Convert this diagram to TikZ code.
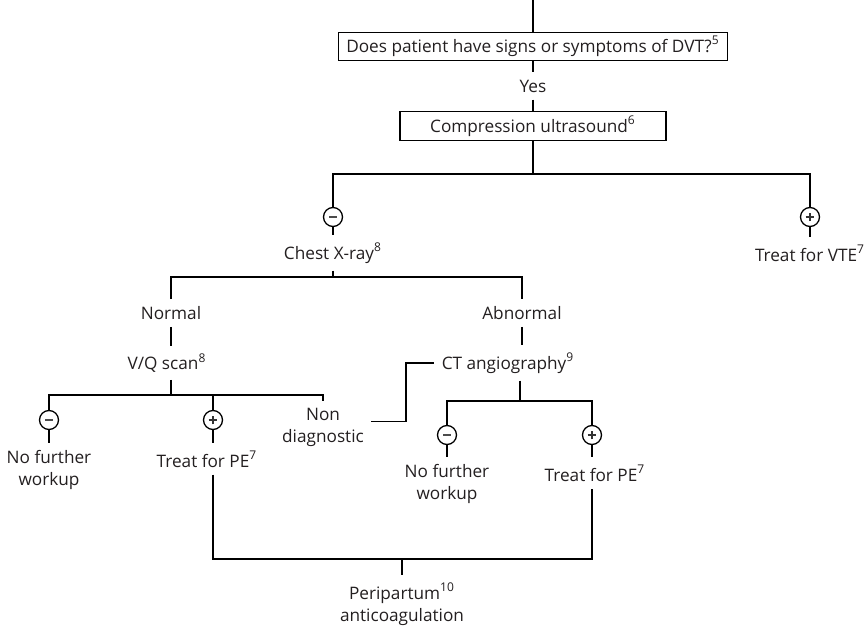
\documentclass[tikz,border=0pt]{standalone}
\usepackage{fontspec}
\setmainfont{Open Sans}
\usetikzlibrary{positioning}
\definecolor{inkgray}{RGB}{35,31,32}

\begin{document}
\begin{tikzpicture}[x=0.5pt, y=-0.5pt, line width=0.65pt,
  every node/.style={font=\fontsize{8.6}{11}\selectfont, text=inkgray, align=center},
  qbox/.style={draw, minimum height=13.5pt, inner sep=2pt},
  sign/.style={circle, draw, minimum size=9.5pt, inner sep=0pt},
  negsign/.style={sign, path picture={\draw[black!70, line width=0.7pt]
      ([xshift=-1.8pt]path picture bounding box.center) -- ([xshift=1.8pt]path picture bounding box.center);}},
  possign/.style={sign, path picture={\draw[black!80, line width=0.6pt]
      ([xshift=-2.2pt]path picture bounding box.center) -- ([xshift=2.2pt]path picture bounding box.center)
      ([yshift=-2.2pt]path picture bounding box.center) -- ([yshift=2.2pt]path picture bounding box.center);}}]
\useasboundingbox (0,0) rectangle (868,626);
% Question and ultrasound
\coordinate (entry) at (533,0);
\node[qbox, minimum width=194.5pt] (dvt) at (533,46.5) {Does patient have signs or symptoms of DVT?\textsuperscript{5}};
\node (yes) at (533,86) {Yes};
\node[qbox, minimum width=133pt] (cus) at (533,126) {Compression ultrasound\textsuperscript{6}};
\draw (entry) -- (dvt);
\draw (dvt) -- (yes);
\draw (yes) -- (cus);
% Ultrasound result
\coordinate (s1) at (533,174);
\node[negsign] (n1) at (333,217) {};
\node[possign] (p1) at (810,217) {};
\draw (cus) -- (s1);
\draw (n1) |- (s1) -| (p1);
\node (cxr) at (333,253) {Chest X-ray\textsuperscript{8}};
\node (vte) at (810,253) {Treat for VTE\textsuperscript{7}};
\draw (n1) -- (cxr);
\draw (p1) -- (vte);
% Chest X-ray result
\coordinate (s2) at (333,277);
\node (normal) at (171,313) {Normal};
\node (abnormal) at (522,313) {Abnormal};
\draw (cxr) -- (s2);
\draw (normal) |- (s2) -| (abnormal);
% V/Q branch
\node (vq) at (167,363) {V/Q scan\textsuperscript{8}};
\draw (normal.south) -- (normal.south |- vq.north);
\coordinate (s3) at (171,395);
\draw (s3 |- vq.south) -- (s3);
\node[negsign] (n2) at (49,420) {};
\node[possign] (p2) at (213,420) {};
\node (nondiag) at (323,427.5) {Non\\diagnostic};
\draw (n2) |- (s3) -| (nondiag);
\draw (p2) |- (s3);
\node (nfw1) at (49,470) {No further\\workup};
\node (pe1) at (207,459) {Treat for PE\textsuperscript{7}};
\draw (n2) -- (nfw1);
\draw (p2) -- (p2 |- pe1.north);
% CT branch
\node (ct) at (508,363) {CT angiography\textsuperscript{9}};
\draw (abnormal.south) -- (abnormal.south |- ct.north);
\coordinate (jog) at (406,363);
\draw ([yshift=3pt]nondiag.east) -| (jog) -- (ct.west);
\coordinate (s4) at (520,401);
\draw (s4 |- ct.south) -- (s4);
\node[negsign] (n3) at (447,435) {};
\node[possign] (p3) at (592,435) {};
\draw (n3) |- (s4) -| (p3);
\node (nfw2) at (447,484) {No further\\workup};
\node (pe2) at (595,473) {Treat for PE\textsuperscript{7}};
\draw (n3) -- (nfw2);
\draw (p3) -- (p3 |- pe2.north);
% Anticoagulation
\coordinate (s5) at (402,559);
\node (peri) at (402,604) {Peripartum\textsuperscript{10}\\anticoagulation};
\draw (p2 |- pe1.south) |- (s5) -| (p3 |- pe2.south);
\draw (s5) -- (peri);
\end{tikzpicture}
\end{document}
